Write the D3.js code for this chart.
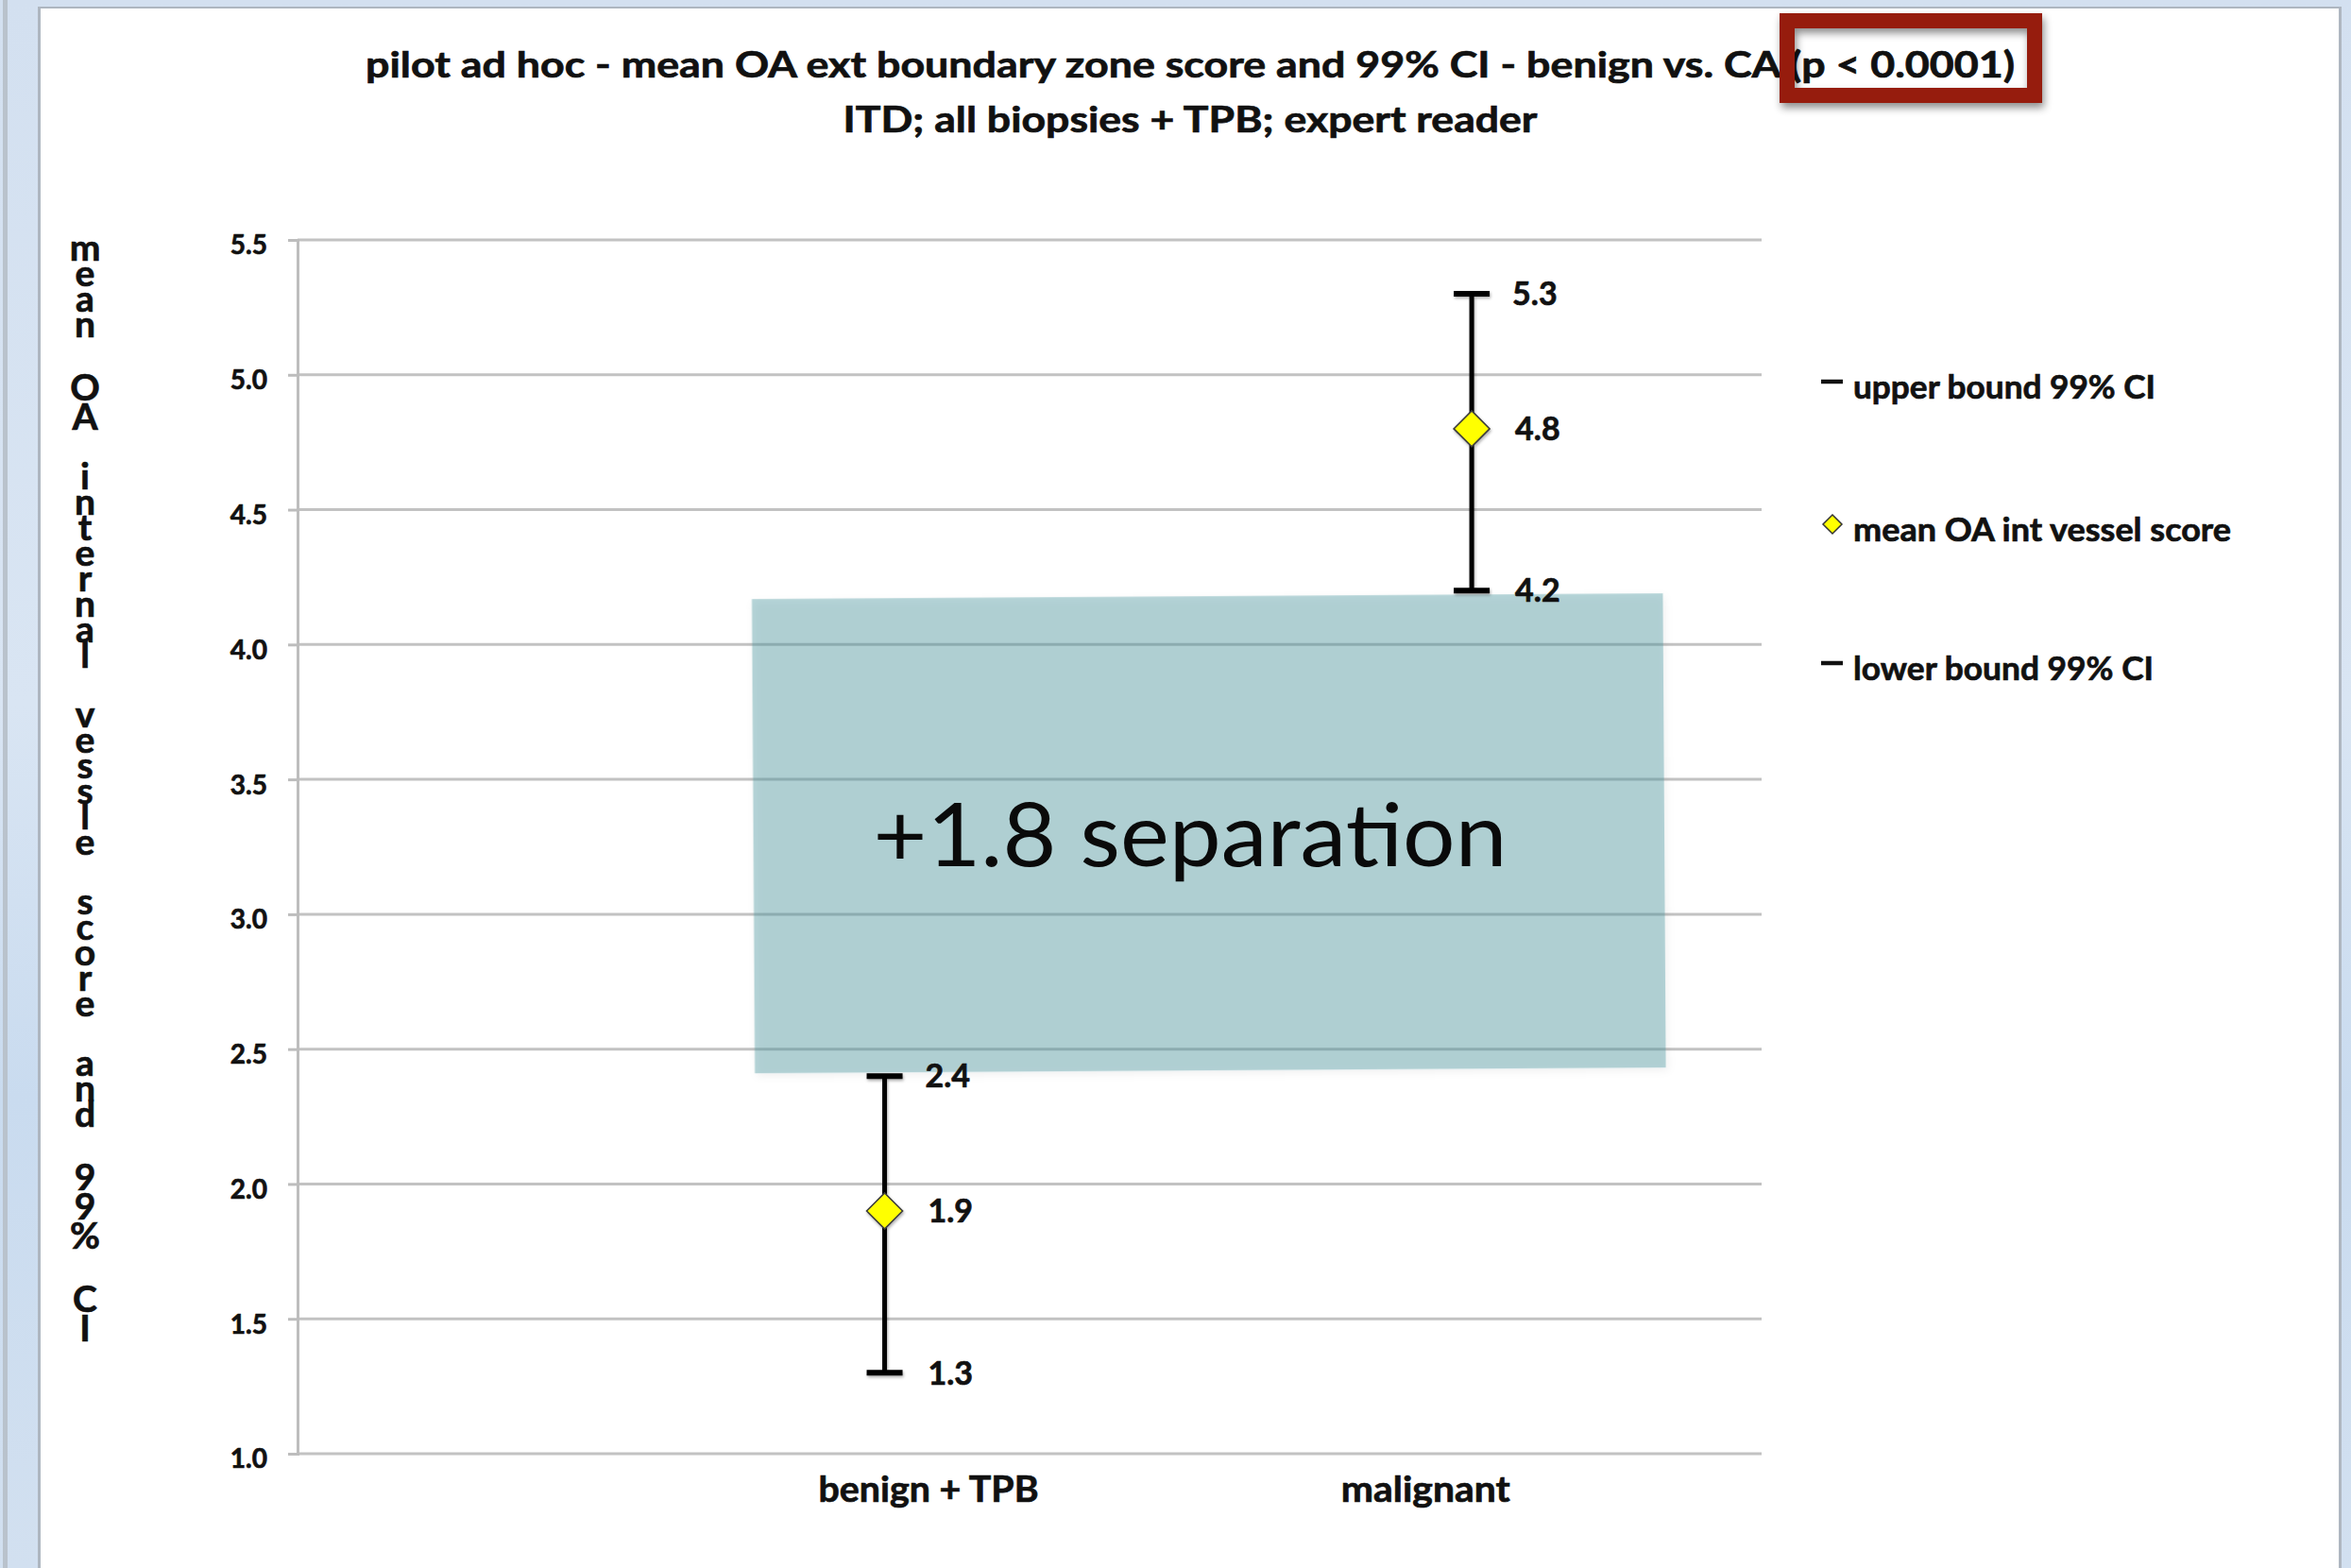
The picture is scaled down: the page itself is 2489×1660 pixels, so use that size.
<!DOCTYPE html>
<html>
<head>
<meta charset="utf-8">
<script src="https://cdn.jsdelivr.net/npm/d3@7"></script>
<style>
  html, body { margin: 0; padding: 0; background: #ffffff; }
  svg { display: block; }
</style>
</head>
<body>
<svg id="chart" width="2489" height="1660"></svg>
<script>
// ---- data ----
const categories = ["benign + TPB", "malignant"];
const upperCI = [2.4, 5.3];
const meanScore = [1.9, 4.8];
const lowerCI = [1.3, 4.2];
const yTicks = [1.0, 1.5, 2.0, 2.5, 3.0, 3.5, 4.0, 4.5, 5.0, 5.5];
const titleLines = [
  "pilot ad hoc - mean OA ext boundary zone score and 99% CI - benign vs. CA (p < 0.0001)",
  "ITD; all biopsies + TPB; expert reader"
];
const yAxisTitle = "mean OA internal vessle score and 99% CI";
const legendLabels = ["upper bound 99% CI", "mean OA int vessel score", "lower bound 99% CI"];

// ---- layout ----
const W = 2489, H = 1660;
const plotL = 315, plotR = 1865, plotT = 254, plotB = 1539;
const plotW = plotR - plotL;
const boldFont = "Lato, 'Open Sans', 'DejaVu Sans', sans-serif";
const heavy = sel => sel.attr("stroke", "#111").attr("stroke-width", 0.7).attr("paint-order", "stroke");

const svg = d3.select("#chart");
const defs = svg.append("defs");

// shadows (user-space regions so zero-width lines still render)
function shadow(id, dx, dy, sd, op) {
  const f = defs.append("filter").attr("id", id)
    .attr("filterUnits", "userSpaceOnUse")
    .attr("x", 0).attr("y", 0).attr("width", W).attr("height", H);
  f.append("feDropShadow").attr("dx", dx).attr("dy", dy).attr("stdDeviation", sd)
    .attr("flood-color", "#000").attr("flood-opacity", op);
}
shadow("softShadow", 2, 5, 4, 0.45);
shadow("markShadow", 1, 2, 1.5, 0.3);
shadow("boxShadow", 2, 3, 4, 0.15);

const stripGrad = defs.append("linearGradient").attr("id", "stripGrad")
  .attr("x1", 0).attr("y1", 0).attr("x2", 0).attr("y2", 1);
stripGrad.append("stop").attr("offset", "0%").attr("stop-color", "#d3e0f0");
stripGrad.append("stop").attr("offset", "45%").attr("stop-color", "#d9e5f3");
stripGrad.append("stop").attr("offset", "70%").attr("stop-color", "#c9dbef");
stripGrad.append("stop").attr("offset", "100%").attr("stop-color", "#d2e0f0");

// ---- window frame ----
svg.append("rect").attr("width", W).attr("height", H).attr("fill", "url(#stripGrad)");
svg.append("rect").attr("x", 3).attr("y", 0).attr("width", 5).attr("height", H).attr("fill", "#b9c2cc");
svg.append("rect").attr("x", 40).attr("y", 7).attr("width", 2439).attr("height", H).attr("fill", "#aeb6c0");
svg.append("rect").attr("x", 43).attr("y", 9).attr("width", 2433).attr("height", H).attr("fill", "#ffffff");

// ---- scales ----
const y = d3.scaleLinear().domain([1, 5.5]).range([plotB, plotT]);
const xMark = d3.scalePoint().domain(categories)
  .range([plotL + 0.401 * plotW, plotL + 0.802 * plotW]);
const xLabel = d3.scalePoint().domain(categories)
  .range([plotL + 0.431 * plotW, plotL + 0.7705 * plotW]);

// ---- gridlines ----
svg.append("g").selectAll("line").data(yTicks).join("line")
  .attr("x1", plotL).attr("x2", plotR)
  .attr("y1", d => y(d)).attr("y2", d => y(d))
  .attr("stroke", "#c2c2c2").attr("stroke-width", 3);

// ---- y axis ----
const yAxis = d3.axisLeft(y).tickValues(yTicks).tickSize(10).tickPadding(22)
  .tickFormat(d3.format(".1f"));
const gy = svg.append("g").attr("transform", `translate(${plotL},0)`).call(yAxis);
gy.select(".domain").attr("stroke", "#bdbdbd").attr("stroke-width", 3);
gy.selectAll(".tick line").attr("stroke", "#bdbdbd").attr("stroke-width", 3);
gy.selectAll(".tick text")
  .attr("font-family", boldFont).attr("font-weight", 700).attr("font-size", 28)
  .attr("fill", "#111").attr("transform", "translate(0,6)")
  .call(heavy);

// ---- stacked y axis title (one character per line) ----
(function () {
  const chars = yAxisTitle.split("");
  let yy = 276, first = true, pending = 0;
  const pos = [];
  chars.forEach(c => {
    if (c === " ") { pending += 36; return; }
    const tall = /[A-Z0-9%]/.test(c);
    if (!first) yy += pending + (tall ? 31 : 27);
    pending = 0; first = false;
    pos.push({ c, y: yy });
  });
  svg.append("text")
    .attr("text-anchor", "middle")
    .attr("font-family", boldFont).attr("font-weight", 700).attr("font-size", 39)
    .attr("fill", "#111")
    .call(heavy)
    .selectAll("tspan").data(pos).join("tspan")
    .attr("x", 90).attr("y", d => d.y)
    .text(d => d.c);
})();

// ---- separation band between the two confidence intervals ----
const gap = lowerCI[1] - upperCI[0];
const bandTop = y(lowerCI[1]) + 6, bandBot = y(upperCI[0]) - 6;
const bandL = xMark(categories[0]) - 139, bandR = xMark(categories[1]) + 204;
svg.append("rect")
  .attr("x", bandL).attr("y", bandTop)
  .attr("width", bandR - bandL).attr("height", bandBot - bandTop)
  .attr("fill", "rgb(75,150,158)").attr("fill-opacity", 0.4)
  .attr("filter", "url(#boxShadow)")
  .attr("transform", `rotate(-0.36 ${(bandL + bandR) / 2} ${(bandTop + bandBot) / 2})`);

// ---- error bars ----
const rows = categories.map((c, i) => ({ c, hi: upperCI[i], mid: meanScore[i], lo: lowerCI[i] }));
const gE = svg.append("g").attr("filter", "url(#markShadow)");
gE.selectAll("line.stem").data(rows).join("line").attr("class", "stem")
  .attr("x1", d => xMark(d.c)).attr("x2", d => xMark(d.c))
  .attr("y1", d => y(d.hi)).attr("y2", d => y(d.lo))
  .attr("stroke", "#000").attr("stroke-width", 5);
const caps = rows.flatMap(d => [{ c: d.c, v: d.hi }, { c: d.c, v: d.lo }]);
gE.selectAll("line.cap").data(caps).join("line").attr("class", "cap")
  .attr("x1", d => xMark(d.c) - 19).attr("x2", d => xMark(d.c) + 19)
  .attr("y1", d => y(d.v)).attr("y2", d => y(d.v))
  .attr("stroke", "#000").attr("stroke-width", 6);
const diamond = d3.symbol().type(d3.symbolDiamond2).size(Math.pow(19 / 0.62625, 2));
gE.selectAll("path.mean").data(rows).join("path").attr("class", "mean")
  .attr("d", diamond)
  .attr("transform", d => `translate(${xMark(d.c)},${y(d.mid)})`)
  .attr("fill", "#ffff00").attr("stroke", "#3c3c3c").attr("stroke-width", 1.6);

// ---- value labels ----
const labels = rows.flatMap(d => [
  { c: d.c, v: d.hi, dx: 43 }, { c: d.c, v: d.mid, dx: 46 }, { c: d.c, v: d.lo, dx: 46 }
]);
svg.append("g").selectAll("text").data(labels).join("text")
  .attr("x", d => xMark(d.c) + d.dx).attr("y", d => y(d.v))
  .attr("dy", "0.36em")
  .attr("font-family", boldFont).attr("font-weight", 700).attr("font-size", 34)
  .attr("fill", "#111")
  .call(heavy)
  .text(d => d3.format(".1f")(d.v));

// ---- separation annotation ----
svg.append("text")
  .attr("x", 1260).attr("y", 917).attr("text-anchor", "middle")
  .attr("font-family", "Lato, 'Open Sans', sans-serif").attr("font-weight", 400)
  .attr("font-size", 93).attr("fill", "#0a0a0a")
  .attr("textLength", 671).attr("lengthAdjust", "spacingAndGlyphs")
  .text(`+${d3.format(".1f")(gap)} separation`);

// ---- category labels ----
const catWidths = [233, 179];
svg.append("g").selectAll("text").data(categories).join("text")
  .attr("x", d => xLabel(d)).attr("y", 1590).attr("text-anchor", "middle")
  .attr("font-family", boldFont).attr("font-weight", 700).attr("font-size", 38)
  .attr("fill", "#111")
  .call(heavy)
  .attr("textLength", (d, i) => catWidths[i]).attr("lengthAdjust", "spacingAndGlyphs")
  .text(d => d);

// ---- titles ----
const titleWidths = [1746, 735];
const titleBase = [82, 140];
svg.append("g").selectAll("text").data(titleLines).join("text")
  .attr("x", 1260).attr("y", (d, i) => titleBase[i]).attr("text-anchor", "middle")
  .attr("font-family", boldFont).attr("font-weight", 700).attr("font-size", 38)
  .attr("fill", "#111")
  .call(heavy)
  .attr("textLength", (d, i) => titleWidths[i]).attr("lengthAdjust", "spacingAndGlyphs")
  .text(d => d);

// highlight frame around the p-value
svg.append("rect")
  .attr("x", 1892).attr("y", 22).attr("width", 262).attr("height", 79)
  .attr("fill", "none").attr("stroke", "#961c0f").attr("stroke-width", 16)
  .attr("filter", "url(#softShadow)");

// ---- legend ----
const legY = [404, 555, 702];
const legW = [320, 400, 318];
const gL = svg.append("g");
legendLabels.forEach((t, i) => {
  if (i === 1) {
    gL.append("path")
      .attr("d", d3.symbol().type(d3.symbolDiamond2).size(Math.pow(10 / 0.62625, 2)))
      .attr("transform", `translate(1940,${legY[i]})`)
      .attr("fill", "#ffff00").attr("stroke", "#333").attr("stroke-width", 1.5);
  } else {
    gL.append("line")
      .attr("x1", 1928).attr("x2", 1951).attr("y1", legY[i]).attr("y2", legY[i])
      .attr("stroke", "#111").attr("stroke-width", 4.5);
  }
  gL.append("text")
    .attr("x", 1962).attr("y", legY[i] + 18)
    .attr("font-family", boldFont).attr("font-weight", 700).attr("font-size", 35)
    .attr("fill", "#111")
    .call(heavy)
    .attr("textLength", legW[i]).attr("lengthAdjust", "spacingAndGlyphs")
    .text(t);
});
</script>
</body>
</html>
